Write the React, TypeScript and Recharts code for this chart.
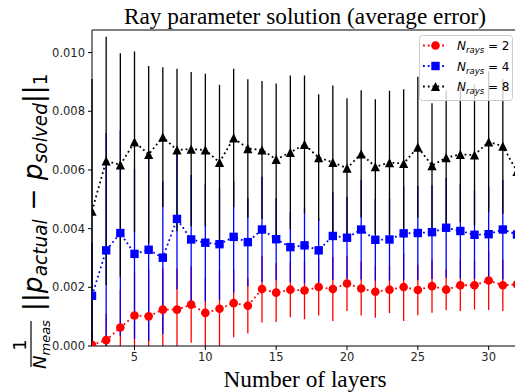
import React from 'react';
import { ComposedChart, Line, XAxis, YAxis, ErrorBar, ReferenceLine } from 'recharts';

const layers = [2, 3, 4, 5, 6, 7, 8, 9, 10, 11, 12, 13, 14, 15, 16, 17, 18, 19, 20, 21, 22, 23, 24, 25, 26, 27, 28, 29, 30, 31, 32];

const rays2Mean = [0.00004, 0.0002, 0.00063, 0.00104, 0.00101, 0.00124, 0.00124, 0.00141, 0.00113, 0.00127, 0.00146, 0.00137, 0.00194, 0.00182, 0.00192, 0.00189, 0.00201, 0.00194, 0.00213, 0.00196, 0.00185, 0.00192, 0.00201, 0.00191, 0.00204, 0.00192, 0.00207, 0.00207, 0.00223, 0.00207, 0.0021];
const rays2Err = [0.0004, 0.0009, 0.0013, 0.0015, 0.0016, 0.0014, 0.0014, 0.0013, 0.0012, 0.0013, 0.00116, 0.00094, 0.00114, 0.001, 0.00094, 0.00098, 0.00097, 0.00109, 0.00094, 0.00092, 0.00089, 0.0008, 0.00116, 0.00086, 0.00091, 0.0007, 0.00088, 0.00083, 0.001, 0.00088, 0.0009];

const rays4Mean = [0.00171, 0.00326, 0.00385, 0.00314, 0.00328, 0.00301, 0.00433, 0.00363, 0.00352, 0.00347, 0.00372, 0.00354, 0.00397, 0.00364, 0.00337, 0.00343, 0.00326, 0.00375, 0.00369, 0.00397, 0.00362, 0.00363, 0.00384, 0.00385, 0.00388, 0.00403, 0.00392, 0.00379, 0.00381, 0.00397, 0.0038];
const rays4Err = [0.0018, 0.004, 0.0035, 0.0029, 0.0031, 0.0026, 0.0024, 0.0022, 0.002, 0.0019, 0.0019, 0.0015, 0.0018, 0.0014, 0.0012, 0.0013, 0.0011, 0.0015, 0.0014, 0.0017, 0.0014, 0.0014, 0.0016, 0.0016, 0.0016, 0.0017, 0.0016, 0.0015, 0.0016, 0.0017, 0.0016];

const rays8Mean = [0.0046, 0.00631, 0.00617, 0.00696, 0.00653, 0.00712, 0.00668, 0.00671, 0.00668, 0.00626, 0.00709, 0.00673, 0.00668, 0.00636, 0.0066, 0.00687, 0.00642, 0.00626, 0.00606, 0.00655, 0.00611, 0.00625, 0.00622, 0.00678, 0.00615, 0.00642, 0.00653, 0.00651, 0.00696, 0.00681, 0.00595];
const rays8Err = [0.0045, 0.00423, 0.00381, 0.00308, 0.00301, 0.00238, 0.00277, 0.00263, 0.0026, 0.00264, 0.00236, 0.00236, 0.00235, 0.00259, 0.00262, 0.00235, 0.00216, 0.00262, 0.00238, 0.00217, 0.0023, 0.00245, 0.00253, 0.0024, 0.00212, 0.0023, 0.0023, 0.0024, 0.0024, 0.0023, 0.0024];

const xTicks = [5, 10, 15, 20, 25, 30];
const yTicks = [0, 0.002, 0.004, 0.006, 0.008, 0.01];
const xDomain = [2, 32];
const yDomain = [0, 0.01077];
const rayCounts = [2, 4, 8];
const colors = ['#ff0000', '#0000ff', '#000000'];

const data = layers.map((layer, i) => ({
  layer,
  n2: rays2Mean[i],
  e2: [Math.min(rays2Err[i], rays2Mean[i]), rays2Err[i]],
  n4: rays4Mean[i],
  e4: [Math.min(rays4Err[i], rays4Mean[i]), rays4Err[i]],
  n8: rays8Mean[i],
  e8: [Math.min(rays8Err[i], rays8Mean[i]), rays8Err[i]],
}));

const CircleDot = (props: any) => {
  const { cx, cy, index } = props;
  if (cx == null || cy == null) return <g key={`c${index}`} />;
  return <circle key={`c${index}`} cx={cx} cy={cy} r={4.3} fill={colors[0]} />;
};
const SquareDot = (props: any) => {
  const { cx, cy, index } = props;
  if (cx == null || cy == null) return <g key={`s${index}`} />;
  return <rect key={`s${index}`} x={cx - 4.2} y={cy - 4.2} width={8.4} height={8.4} fill={colors[1]} />;
};
const TriDot = (props: any) => {
  const { cx, cy, index } = props;
  if (cx == null || cy == null) return <g key={`t${index}`} />;
  return (
    <polygon
      key={`t${index}`}
      points={`${cx},${cy - 4.6} ${cx - 4.6},${cy + 4.6} ${cx + 4.6},${cy + 4.6}`}
      fill={colors[2]}
    />
  );
};

const markerFor = (i: number, cx: number, cy: number) => {
  if (i === 0) return <circle cx={cx} cy={cy} r={4.3} fill={colors[0]} />;
  if (i === 1) return <rect x={cx - 4.2} y={cy - 4.2} width={8.4} height={8.4} fill={colors[1]} />;
  return <polygon points={`${cx},${cy - 4.6} ${cx - 4.6},${cy + 4.6} ${cx + 4.6},${cy + 4.6}`} fill={colors[2]} />;
};

const LegendBox = () => (
  <g transform="translate(419, 35)">
    <rect x={0.5} y={0.5} width={93} height={65} rx={3} ry={3} fill="rgba(255,255,255,0.8)" stroke="#cccccc" strokeWidth={1} />
    {rayCounts.map((n, i) => {
      const cy = 10.5 + i * 20.5;
      return (
        <g key={n}>
          <line x1={4} y1={cy} x2={28} y2={cy} stroke={colors[i]} strokeWidth={1.8} strokeDasharray="1.8 3" />
          {markerFor(i, 16.5, cy)}
          <text x={38} y={cy + 4.5} fontFamily="DejaVu Sans" fontSize={12} fill="#000">
            <tspan fontStyle="italic">N</tspan>
            <tspan fontStyle="italic" fontSize={8.5} dy={3}>rays</tspan>
            <tspan dy={-3}> = {n}</tspan>
          </text>
        </g>
      );
    })}
  </g>
);

const tickStyle = { fontFamily: 'DejaVu Sans', fontSize: 11.5, fill: '#262626' };

export default function App() {
  const F = 26.5;
  return (
    <div style={{ position: 'absolute', left: 0, top: 0, width: 515, height: 392, overflow: 'hidden', background: '#fff' }}>
      <ComposedChart width={520} height={392} data={data} margin={{ top: 30, right: 3, bottom: 0, left: 0 }}>
        <XAxis
          type="number"
          dataKey="layer"
          domain={xDomain}
          ticks={xTicks}
          allowDataOverflow
          tick={tickStyle}
          tickSize={4}
          tickMargin={3}
          stroke="#000"
          height={46}
        />
        <YAxis
          type="number"
          domain={yDomain}
          ticks={yTicks}
          allowDataOverflow
          tick={tickStyle}
          tickSize={4}
          tickMargin={3}
          stroke="#000"
          width={92}
          tickFormatter={(v: number) => v.toFixed(3)}
        />
        <ReferenceLine y={yDomain[1]} stroke="#000" strokeWidth={1} />
        <Line dataKey="n2" stroke="none" dot={false} activeDot={false} legendType="none" isAnimationActive={false}>
          <ErrorBar dataKey="e2" width={0} stroke={colors[0]} strokeWidth={1.3} />
        </Line>
        <Line dataKey="n4" stroke="none" dot={false} activeDot={false} legendType="none" isAnimationActive={false}>
          <ErrorBar dataKey="e4" width={0} stroke={colors[1]} strokeWidth={1.3} />
        </Line>
        <Line dataKey="n8" stroke="none" dot={false} activeDot={false} legendType="none" isAnimationActive={false}>
          <ErrorBar dataKey="e8" width={0} stroke={colors[2]} strokeWidth={1.3} />
        </Line>
        <Line dataKey="n2" type="linear" stroke={colors[0]} strokeWidth={1.8} strokeDasharray="1.8 3" dot={CircleDot} activeDot={false} isAnimationActive={false} />
        <Line dataKey="n4" type="linear" stroke={colors[1]} strokeWidth={1.8} strokeDasharray="1.8 3" dot={SquareDot} activeDot={false} isAnimationActive={false} />
        <Line dataKey="n8" type="linear" stroke={colors[2]} strokeWidth={1.8} strokeDasharray="1.8 3" dot={TriDot} activeDot={false} isAnimationActive={false} />
      </ComposedChart>
      <svg width={515} height={392} style={{ position: 'absolute', left: 0, top: 0, pointerEvents: 'none' }}>
        <LegendBox />
        <text x={305} y={24} textAnchor="middle" fontFamily="Liberation Serif" fontSize={23.3} fill="#000">
          Ray parameter solution (average error)
        </text>
        <text x={305} y={387} textAnchor="middle" fontFamily="Liberation Serif" fontSize={23.3} fill="#000">
          Number of layers
        </text>
        <g transform="translate(42, 371) rotate(-90)" fontFamily="DejaVu Sans" fill="#000">
          <text x={26} y={-16} textAnchor="middle" fontSize={18}>1</text>
          <line x1={4} y1={-11} x2={50} y2={-11} stroke="#000" strokeWidth={1.2} />
          <text x={2} y={4} fontSize={18}>
            <tspan fontStyle="italic">N</tspan>
            <tspan fontStyle="italic" fontSize={13} dy={4}>meas</tspan>
          </text>
          <text x={60} y={0} fontSize={F}>
            <tspan>||</tspan>
            <tspan fontStyle="italic">p</tspan>
            <tspan fontStyle="italic" fontSize={F * 0.7} dy={F * 0.18}>actual</tspan>
            <tspan dy={-F * 0.18}> − </tspan>
            <tspan fontStyle="italic">p</tspan>
            <tspan fontStyle="italic" fontSize={F * 0.7} dy={F * 0.18}>solved</tspan>
            <tspan dy={-F * 0.18}>||</tspan>
            <tspan fontSize={F * 0.7} dy={F * 0.18}>1</tspan>
          </text>
        </g>
      </svg>
    </div>
  );
}
